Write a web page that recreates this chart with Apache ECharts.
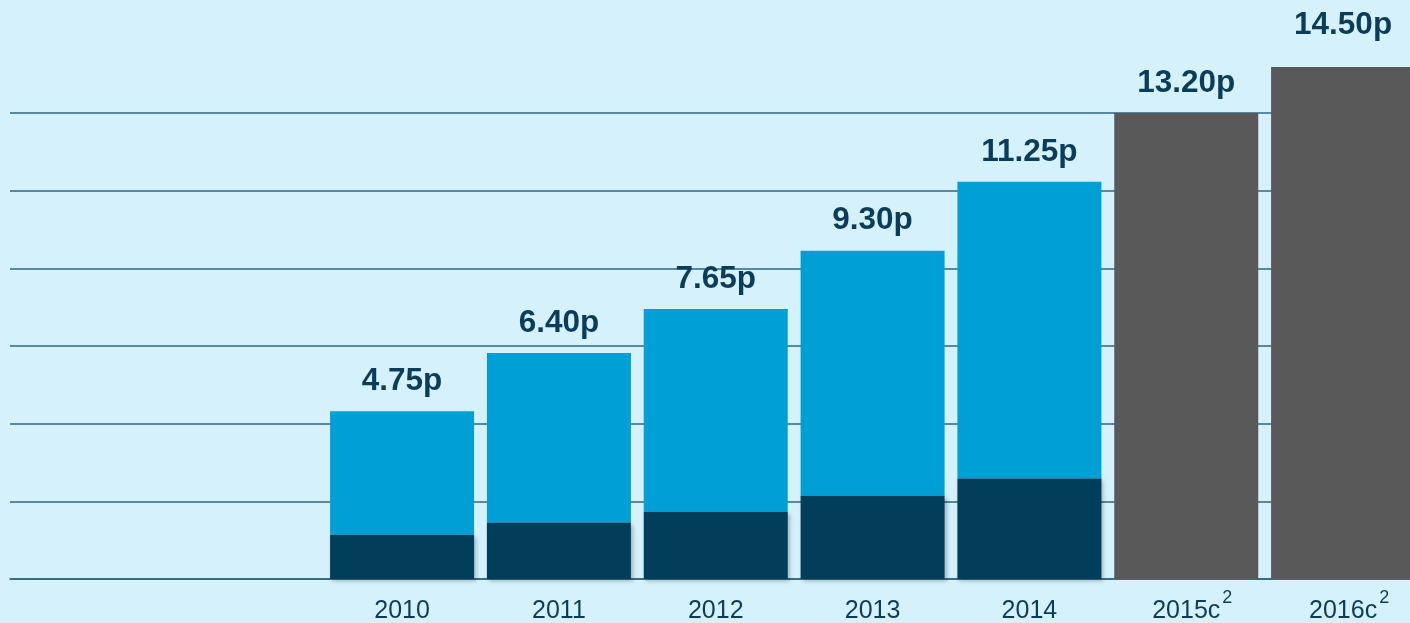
<!DOCTYPE html>
<html>
<head>
<meta charset="utf-8">
<script src="https://cdn.jsdelivr.net/npm/echarts@6/dist/echarts.min.js"></script>
<style>
html,body{margin:0;padding:0;background:#d5f1fc;}
#chart{width:1410px;height:623px;}
</style>
</head>
<body>
<div id="chart"></div>
<script>
const categories = ['', '', '2010', '2011', '2012', '2013', '2014', '2015c', '2016c'];
const interimDividend = [null, null, 1.25, 1.60, 1.90, 2.35, 2.85, null, null];
const finalDividend = [null, null, 3.50, 4.80, 5.75, 6.95, 8.40, null, null];
const forecastDividend = [null, null, null, null, null, null, null, 13.20, 14.50];
const totalLabels = ['', '', '4.75p', '6.40p', '7.65p', '9.30p', '11.25p', '13.20p', '14.50p'];
const superscriptCats = ['2015c', '2016c'];

const textColor = '#0b3d58';
const font = '"Liberation Sans", Arial, sans-serif';

const chart = echarts.init(document.getElementById('chart'));

const valueLabel = {
  show: true,
  position: 'top',
  distance: 14,
  color: textColor,
  fontFamily: font,
  fontWeight: 'bold',
  fontSize: 31.5,
  formatter: p => totalLabels[p.dataIndex]
};

chart.setOption({
  backgroundColor: '#d5f1fc',
  animation: false,
  grid: { left: 10, top: 113, bottom: 44, width: 1411.5, containLabel: false, outerBoundsMode: 'none' },
  xAxis: {
    type: 'category',
    data: categories,
    axisTick: { show: false },
    axisLine: { show: true, lineStyle: { color: '#2f6580', width: 1.5 } },
    axisLabel: {
      margin: 10,
      interval: 0,
      color: textColor,
      fontFamily: font,
      fontSize: 25,
      formatter: v => v === '' ? '' : (superscriptCats.includes(v) ? '{b|' + v + '}{s|2}' : '{a|' + v + '}{n| }'),
      rich: {
        a: { color: textColor, fontFamily: font, fontSize: 25, lineHeight: 25, verticalAlign: 'bottom' },
        b: { color: textColor, fontFamily: font, fontSize: 25, lineHeight: 25, verticalAlign: 'bottom', padding: [0, 0, 0, 12] },
        s: { color: textColor, fontFamily: font, fontSize: 18, verticalAlign: 'top', padding: [0, 0, 17, 2] },
        n: { color: textColor, fontFamily: font, fontSize: 18, verticalAlign: 'top', padding: [0, 0, 17, 0], width: 0 }
      }
    }
  },
  yAxis: {
    type: 'value',
    min: 0,
    max: 13.2,
    interval: 2.2,
    axisLabel: { show: false },
    axisLine: { show: false },
    axisTick: { show: false },
    splitLine: { show: true, lineStyle: { color: '#2f6580', width: 1.5 } }
  },
  series: [
    {
      type: 'bar', stack: 'a', barWidth: 144, clip: false,
      data: interimDividend,
      itemStyle: { color: '#003e5a', shadowColor: 'rgba(0,0,0,0.25)', shadowBlur: 4, shadowOffsetX: 2, shadowOffsetY: 2 },
      z: 3
    },
    {
      type: 'bar', stack: 'a', barWidth: 144, clip: false,
      data: finalDividend,
      itemStyle: { color: '#00a0d6' },
      label: valueLabel,
      z: 2
    },
    {
      type: 'bar', stack: 'a', barWidth: 144, clip: false,
      data: forecastDividend.map((v, i) => i === 8 ? { value: v, label: { distance: 26 } } : v),
      itemStyle: { color: '#595959' },
      label: valueLabel,
      z: 2
    }
  ]
});
</script>
</body>
</html>
